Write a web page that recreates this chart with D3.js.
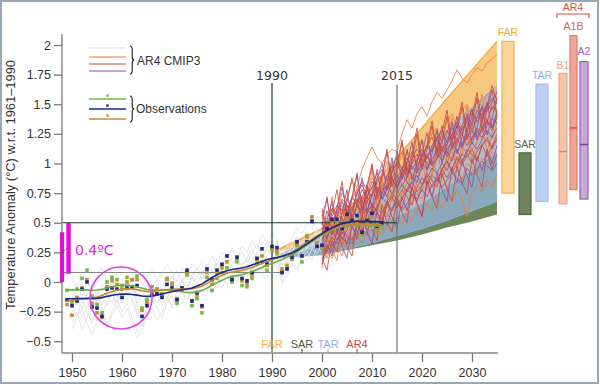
<!DOCTYPE html>
<html><head><meta charset="utf-8">
<script src="https://cdn.jsdelivr.net/npm/d3@7/dist/d3.min.js"></script>
<style>html,body{margin:0;padding:0;background:#fff;} svg{display:block;}</style>
</head><body>
<svg id="chart" width="600" height="386"></svg>
<script>
// ---------------- DATA ----------------
const yearTicks = [1950,1960,1970,1980,1990,2000,2010,2020,2030];
const tempTicks = [-0.5,-0.25,0,0.25,0.5,0.75,1,1.25,1.5,1.75,2];
const tempTickLabels = ["−0.5","−0.25","0","0.25","0.5","0.75","1","1.25","1.5","1.75","2"];

// observations, annual anomalies 1949..2012
const obsStart = 1949;
const obsGreen = [-0.07,-0.17,-0.06,0.03,0.10,-0.12,-0.19,-0.26,0.00,0.04,0.02,-0.03,0.04,0.02,0.05,-0.22,-0.15,-0.04,-0.06,-0.10,0.02,-0.02,-0.18,-0.07,0.06,-0.20,-0.14,-0.26,0.04,-0.07,0.03,0.08,0.12,0.00,0.17,-0.03,-0.04,0.03,0.16,0.17,0.10,0.27,0.24,0.08,0.12,0.19,0.31,0.17,0.39,0.52,0.30,0.29,0.44,0.49,0.50,0.44,0.54,0.50,0.48,0.39,0.50,0.55,0.42,0.46];
const obsBlue  = [-0.15,-0.20,-0.16,-0.06,0.00,-0.21,-0.22,-0.29,-0.06,-0.05,-0.06,-0.13,-0.05,-0.04,-0.03,-0.29,-0.20,-0.11,-0.10,-0.13,-0.02,-0.05,-0.15,-0.05,0.10,-0.16,-0.09,-0.20,0.11,0.02,0.10,0.15,0.22,0.02,0.21,0.03,0.01,0.08,0.20,0.28,0.16,0.30,0.29,0.08,0.11,0.21,0.34,0.22,0.34,0.51,0.30,0.31,0.45,0.53,0.53,0.45,0.57,0.52,0.56,0.42,0.52,0.58,0.47,0.50];
const obsOrange= [-0.19,-0.28,-0.13,-0.05,0.02,-0.18,-0.26,-0.30,-0.04,0.01,-0.02,-0.06,0.00,0.02,0.02,-0.24,-0.17,-0.08,-0.06,-0.11,0.03,-0.01,-0.14,-0.05,0.08,-0.16,-0.11,-0.21,0.08,-0.02,0.07,0.12,0.17,0.04,0.20,0.01,-0.01,0.06,0.19,0.22,0.14,0.29,0.26,0.11,0.14,0.22,0.32,0.22,0.38,0.55,0.33,0.30,0.44,0.49,0.49,0.45,0.55,0.51,0.50,0.41,0.50,0.56,0.43,0.47];

// CMIP3 hindcast runs 1950..2000
const histStart = 1950;
const histRuns = [
 [-0.25,-0.18,-0.30,-0.22,-0.12,-0.20,-0.28,-0.15,-0.10,-0.18,-0.08,-0.15,-0.05,-0.20,-0.32,-0.22,-0.12,-0.18,-0.08,-0.14,-0.05,-0.10,0.02,-0.06,0.05,-0.02,0.08,0.00,0.10,0.05,0.12,0.18,0.08,0.02,0.15,0.20,0.12,0.25,0.18,0.28,0.22,0.30,0.10,0.18,0.26,0.32,0.25,0.38,0.30,0.42,0.36],
 [-0.10,-0.20,-0.05,-0.15,-0.25,-0.12,-0.02,-0.10,-0.18,-0.05,0.02,-0.08,-0.15,-0.28,-0.20,-0.10,-0.02,-0.12,-0.05,0.05,-0.02,-0.10,0.00,0.08,-0.04,0.05,0.10,0.02,0.08,0.15,0.06,0.12,0.20,0.14,0.05,0.10,0.18,0.25,0.16,0.22,0.30,0.20,0.05,0.15,0.25,0.20,0.32,0.28,0.40,0.35,0.45],
 [-0.35,-0.25,-0.40,-0.30,-0.20,-0.32,-0.22,-0.35,-0.25,-0.15,-0.25,-0.18,-0.30,-0.42,-0.35,-0.25,-0.15,-0.22,-0.30,-0.18,-0.12,-0.20,-0.08,-0.15,-0.05,-0.12,-0.02,-0.08,0.02,-0.05,0.05,-0.02,0.08,0.00,0.10,0.04,0.12,0.06,0.15,0.10,0.20,0.12,-0.02,0.05,0.15,0.10,0.22,0.18,0.28,0.24,0.32],
 [0.05,-0.05,0.10,0.02,-0.08,0.05,0.12,0.00,-0.05,0.08,0.15,0.05,0.00,-0.12,-0.05,0.05,0.10,0.02,0.08,0.15,0.08,0.00,0.12,0.05,0.15,0.10,0.18,0.12,0.22,0.15,0.25,0.18,0.28,0.20,0.30,0.25,0.35,0.28,0.40,0.32,0.42,0.35,0.20,0.30,0.38,0.45,0.40,0.50,0.44,0.55,0.48],
 [-0.20,-0.30,-0.15,-0.25,-0.35,-0.22,-0.12,-0.20,-0.10,-0.22,-0.15,-0.05,-0.12,-0.25,-0.38,-0.28,-0.18,-0.10,-0.20,-0.12,-0.20,-0.08,-0.15,-0.02,-0.10,0.00,-0.08,0.05,-0.02,0.08,0.00,0.10,0.02,0.12,0.05,0.15,0.08,0.18,0.10,0.20,0.15,0.25,0.05,0.12,0.20,0.28,0.22,0.30,0.35,0.28,0.38],
 [-0.05,-0.15,-0.22,-0.10,-0.02,-0.12,-0.20,-0.08,0.00,-0.10,-0.18,-0.06,0.02,-0.15,-0.25,-0.15,-0.05,0.02,-0.08,-0.02,0.05,-0.05,0.02,-0.08,0.06,0.12,0.02,0.10,0.05,0.16,0.10,0.04,0.15,0.22,0.12,0.20,0.28,0.18,0.25,0.34,0.26,0.35,0.15,0.22,0.32,0.38,0.30,0.42,0.36,0.46,0.40],
 [-0.40,-0.30,-0.22,-0.35,-0.45,-0.32,-0.25,-0.38,-0.28,-0.20,-0.30,-0.22,-0.35,-0.48,-0.40,-0.30,-0.22,-0.32,-0.25,-0.15,-0.22,-0.12,-0.18,-0.08,-0.15,-0.05,-0.12,-0.02,-0.10,0.00,-0.05,0.05,-0.02,0.06,0.00,0.10,0.02,0.12,0.05,0.15,0.10,0.18,0.00,0.08,0.16,0.12,0.20,0.26,0.18,0.30,0.25],
 [-0.15,-0.05,-0.12,0.00,-0.08,-0.18,-0.10,0.02,-0.06,-0.14,-0.04,0.04,-0.06,-0.18,-0.12,-0.02,-0.10,-0.04,0.06,-0.02,0.04,0.10,0.00,0.08,0.02,0.12,0.06,0.15,0.08,0.20,0.14,0.22,0.12,0.18,0.26,0.16,0.24,0.32,0.22,0.30,0.36,0.28,0.12,0.22,0.30,0.24,0.34,0.40,0.32,0.44,0.38]
];

// CMIP3 projection runs 2000..2035
const projStart = 2000;
const orangeRuns = [
 [0.45,0.55,0.62,0.58,0.75,0.70,0.85,0.80,0.95,1.05,1.14,1.05,1.00,1.08,1.12,1.10,1.25,1.37,1.30,1.42,1.48,1.40,1.52,1.60,1.55,1.62,1.70,1.79,1.72,1.68,1.75,1.81,1.78,1.85,1.88,1.92],
 [0.30,0.42,0.35,0.50,0.45,0.58,0.52,0.48,0.62,0.70,0.65,0.60,0.75,0.72,0.68,0.85,0.80,0.78,0.92,0.88,0.95,1.02,0.90,1.05,1.10,1.00,1.12,1.20,1.15,1.08,1.22,1.28,1.20,1.35,1.30,1.40],
 [0.22,0.30,0.45,0.38,0.32,0.48,0.55,0.42,0.50,0.62,0.58,0.70,0.66,0.55,0.72,0.78,0.70,0.85,0.90,0.82,0.76,0.95,1.02,0.92,0.88,1.05,1.10,0.98,1.15,1.22,1.12,1.18,1.30,1.25,1.20,1.35],
 [0.50,0.38,0.60,0.55,0.65,0.52,0.70,0.78,0.62,0.75,0.88,0.82,0.92,0.85,0.98,1.05,0.95,1.10,1.02,1.15,1.20,1.12,1.25,1.30,1.18,1.35,1.42,1.30,1.45,1.50,1.40,1.55,1.48,1.58,1.62,1.55],
 [0.28,0.20,0.35,0.42,0.30,0.40,0.48,0.38,0.45,0.55,0.50,0.45,0.60,0.58,0.52,0.65,0.72,0.60,0.68,0.75,0.70,0.80,0.72,0.85,0.90,0.80,0.88,0.95,0.86,1.00,0.96,0.92,1.05,1.00,1.10,1.05],
 [0.38,0.48,0.42,0.55,0.62,0.50,0.58,0.68,0.60,0.72,0.80,0.70,0.78,0.90,0.82,0.75,0.92,1.00,0.88,0.96,1.08,1.00,0.95,1.10,1.18,1.05,1.15,1.22,1.12,1.25,1.32,1.20,1.28,1.38,1.30,1.42],
 [0.15,0.25,0.20,0.30,0.22,0.35,0.28,0.38,0.32,0.42,0.36,0.45,0.40,0.50,0.44,0.55,0.48,0.58,0.52,0.62,0.56,0.66,0.60,0.70,0.62,0.72,0.68,0.78,0.70,0.55,0.75,0.82,0.76,0.86,0.80,0.90],
 [0.60,0.35,0.72,0.48,0.30,0.65,0.52,0.80,0.45,0.70,0.95,0.62,0.85,1.02,0.70,0.92,1.10,0.85,0.78,1.05,1.20,0.95,1.12,1.30,1.05,1.25,1.38,1.15,1.30,1.48,1.25,1.40,1.58,1.35,1.50,1.62],
 [0.12,0.40,0.28,0.18,0.45,0.60,0.35,0.50,0.72,0.42,0.58,0.80,0.55,0.68,0.90,0.62,0.75,0.98,0.70,0.85,1.05,0.80,0.92,1.15,0.88,0.98,1.20,0.95,1.08,1.30,1.02,1.18,1.36,1.10,1.25,1.45]
];
const redRuns = [
 [0.35,0.45,0.40,0.52,0.48,0.60,0.55,0.65,0.58,0.68,0.75,0.70,0.80,0.72,0.85,0.90,0.82,0.88,0.98,0.92,1.00,1.08,0.98,1.05,1.15,1.10,1.02,1.18,1.25,1.15,1.22,1.30,1.26,1.35,1.28,1.40],
 [0.25,0.35,0.30,0.42,0.38,0.32,0.48,0.52,0.45,0.40,0.55,0.62,0.58,0.68,0.60,0.70,0.78,0.72,0.65,0.80,0.88,0.82,0.90,0.85,0.95,1.02,0.92,1.00,1.08,1.05,1.12,1.02,1.15,1.20,1.12,1.22],
 [0.55,0.48,0.62,0.58,0.70,0.65,0.60,0.75,0.82,0.72,0.80,0.92,0.85,0.78,0.95,1.00,0.90,1.02,1.10,0.98,1.05,1.15,1.22,1.10,1.18,1.28,1.20,1.32,1.25,1.38,1.45,1.35,1.42,1.50,1.45,1.55],
 [0.18,0.28,0.38,0.32,0.45,0.40,0.35,0.50,0.55,0.48,0.62,0.55,0.50,0.65,0.72,0.62,0.70,0.78,0.74,0.68,0.82,0.90,0.80,0.86,0.95,0.88,0.96,1.04,0.98,1.08,1.00,1.10,1.16,1.06,1.14,1.20],
 [0.42,0.52,0.48,0.40,0.58,0.65,0.55,0.62,0.72,0.68,0.60,0.75,0.82,0.78,0.88,0.80,0.95,0.90,1.00,1.08,0.98,1.05,1.12,1.20,1.10,1.16,1.25,1.20,1.30,1.35,1.28,1.38,1.42,1.35,1.48,1.45],
 [0.32,0.25,0.40,0.48,0.36,0.44,0.55,0.50,0.42,0.58,0.65,0.58,0.52,0.68,0.74,0.70,0.62,0.78,0.85,0.76,0.82,0.92,0.86,0.80,0.96,1.02,0.95,1.06,1.00,1.12,1.08,1.02,1.16,1.22,1.14,1.25],
 [0.48,0.72,0.40,0.62,0.85,0.55,0.70,0.92,0.60,0.78,1.00,0.72,0.88,1.10,0.80,0.95,1.18,0.88,1.02,1.25,0.95,1.12,1.32,1.05,1.20,1.40,1.12,1.28,1.48,1.20,1.35,1.55,1.28,1.45,1.62,1.40],
 [0.20,0.10,0.35,0.25,0.48,0.30,0.22,0.52,0.38,0.60,0.45,0.35,0.65,0.50,0.42,0.72,0.58,0.50,0.80,0.66,0.55,0.86,0.72,0.62,0.92,0.78,0.68,0.98,0.84,0.74,1.04,0.90,0.80,1.10,0.95,1.08],
 [0.62,0.45,0.58,0.78,0.52,0.68,0.88,0.66,0.55,0.82,0.98,0.75,0.90,1.12,0.86,1.00,1.20,0.94,1.08,1.30,1.02,1.16,1.36,1.10,1.26,1.45,1.18,1.32,1.52,1.26,1.40,1.60,1.35,1.48,1.66,1.52]
];
const purpleRuns = [
 [0.40,0.60,0.48,0.55,0.68,0.58,0.72,0.65,0.78,0.70,0.85,0.80,0.74,0.90,0.98,0.88,0.96,1.05,0.95,1.02,1.12,1.05,1.15,1.22,1.12,1.20,1.30,1.24,1.32,1.40,1.32,1.45,1.38,1.48,1.55,1.50],
 [0.28,0.38,0.45,0.35,0.42,0.52,0.46,0.40,0.56,0.62,0.55,0.64,0.72,0.66,0.60,0.75,0.82,0.76,0.84,0.90,0.82,0.88,0.96,0.92,1.00,0.94,1.05,1.12,1.02,1.10,1.18,1.12,1.20,1.28,1.22,1.30],
 [0.50,0.42,0.55,0.65,0.60,0.70,0.62,0.75,0.85,0.78,0.72,0.88,0.95,0.85,0.92,1.02,0.96,0.90,1.05,1.12,1.06,1.15,1.10,1.22,1.28,1.18,1.25,1.35,1.28,1.36,1.42,1.38,1.48,1.44,1.52,1.60],
 [0.20,0.30,0.26,0.36,0.44,0.38,0.32,0.46,0.52,0.44,0.50,0.58,0.54,0.48,0.62,0.68,0.60,0.66,0.74,0.70,0.78,0.72,0.82,0.88,0.80,0.86,0.92,0.88,0.82,0.96,0.90,0.95,1.02,0.98,0.94,1.00],
 [0.36,0.44,0.52,0.46,0.40,0.55,0.62,0.56,0.64,0.72,0.66,0.60,0.76,0.82,0.74,0.85,0.92,0.84,0.78,0.94,1.00,0.95,1.04,1.10,1.02,1.12,1.18,1.10,1.16,1.25,1.20,1.28,1.22,1.32,1.38,1.34],
 [0.46,0.36,0.50,0.58,0.52,0.46,0.60,0.70,0.64,0.58,0.74,0.80,0.70,0.78,0.86,0.80,0.88,0.96,0.90,0.84,0.98,1.06,0.98,1.04,1.12,1.06,1.14,1.20,1.14,1.22,1.28,1.20,1.30,1.36,1.30,1.38],
 [0.30,0.52,0.68,0.42,0.58,0.78,0.50,0.66,0.88,0.60,0.74,0.95,0.70,0.82,1.05,0.78,0.92,1.12,0.86,1.00,1.20,0.94,1.08,1.28,1.00,1.15,1.35,1.08,1.22,1.42,1.16,1.30,1.48,1.24,1.38,1.55],
 [0.15,0.32,0.22,0.45,0.30,0.20,0.48,0.36,0.55,0.42,0.32,0.60,0.48,0.68,0.55,0.45,0.72,0.60,0.80,0.66,0.56,0.85,0.72,0.92,0.78,0.68,0.96,0.84,1.02,0.90,0.80,1.06,0.94,1.12,1.00,1.15],
 [0.55,0.70,0.46,0.62,0.80,0.58,0.72,0.90,0.66,0.82,0.62,0.86,1.00,0.78,0.92,1.10,0.86,1.00,1.18,0.94,1.08,1.26,1.00,1.14,1.32,1.08,1.22,1.40,1.15,1.30,1.46,1.22,1.36,1.52,1.30,1.44]
];

// projection envelopes of past assessment reports
const fanYears = [1990,2000,2010,2015,2020,2025,2030,2035];
const farLo = [0.25,0.33,0.45,0.50,0.55,0.62,0.68,0.75];
const farHi = [0.25,0.45,0.80,1.05,1.30,1.55,1.79,2.03];
const sarLo = [0.20,0.23,0.31,0.35,0.40,0.46,0.51,0.57];
const sarHi = [0.20,0.30,0.45,0.55,0.66,0.80,0.94,1.09];
const tarLo = [0.20,0.23,0.33,0.39,0.45,0.52,0.60,0.68];
const tarHi = [0.20,0.40,0.70,0.88,1.08,1.28,1.47,1.66];

// ranges at 2035
const projNames = ["FAR","SAR","TAR","B1","A1B","A2"];
const projLo  = [0.75,0.57,0.68,0.66,0.78,0.70];
const projHi  = [2.03,1.09,1.67,1.76,2.08,1.86];
const projMid = [null,null,null,1.10,1.30,1.16];

const reportNames = ["FAR","SAR","TAR","AR4"];
const reportYears = [1990,1996,2001.2,2007];

// ---------------- DRAW ----------------
const svg = d3.select("#chart");
const x = d3.scaleLinear().domain([1948, 2035.2]).range([62, 498]);
const y = d3.scaleLinear().domain([-0.5, 2]).range([341.25, 45]);
const SANS = "'Liberation Sans', Arial, Helvetica, sans-serif";
const DEJ = "'DejaVu Sans', sans-serif";

// frame
svg.append("rect").attr("x",1).attr("y",1).attr("width",597).attr("height",382)
  .attr("fill","#fff").attr("stroke","#9aa7b4").attr("stroke-width",2);

// fans
function fan(lo, hi, fill, op) {
  const area = d3.area().x(d=>x(d)).y0((d,i)=>y(lo[i])).y1((d,i)=>y(hi[i]));
  svg.append("path").datum(fanYears).attr("d", area).attr("fill", fill).attr("fill-opacity", op).attr("stroke","none");
}
function edge(vals, col, w) {
  const ln = d3.line().x(d=>x(d)).y((d,i)=>y(vals[i]));
  svg.append("path").datum(fanYears).attr("d", ln).attr("fill","none").attr("stroke",col).attr("stroke-width",w);
}
fan(farLo, farHi, "#f8c271", 0.9);
fan(sarLo, sarHi, "#6c8758", 1);
fan(tarLo, tarHi, "#98b6e2", 0.72);
edge(farHi, "#f0a53a", 1.3);
edge(tarHi, "#8fb1e0", 1);
edge(tarLo, "#8fb1e0", 1);

// hindcast runs
const runLine = (start) => d3.line().x((d,i)=>x(start+i)).y(d=>y(d));
svg.append("g").selectAll("path").data(histRuns).join("path")
  .attr("d", runLine(histStart)).attr("fill","none").attr("stroke","#e3e3e3").attr("stroke-width",0.9);

// projection runs
const runSets = [[orangeRuns,"#ea7a35"],[purpleRuns,"#8d4f9e"],[redRuns,"#c9473f"]];
runSets.forEach(([runs,col])=>{
  svg.append("g").selectAll("path").data(runs).join("path")
    .attr("d", runLine(projStart)).attr("fill","none").attr("stroke",col)
    .attr("stroke-width",1).attr("stroke-opacity",0.8);
});

// reference lines
svg.append("line").attr("x1",x(1990)).attr("x2",x(1990)).attr("y1",83).attr("y2",353).attr("stroke","#1d3a28").attr("stroke-width",1.2);
svg.append("line").attr("x1",x(2015)).attr("x2",x(2015)).attr("y1",85).attr("y2",353).attr("stroke","#6b7a70").attr("stroke-width",1.2);
svg.append("line").attr("x1",62).attr("x2",x(2015)).attr("y1",y(0.5)).attr("y2",y(0.5)).attr("stroke","#1d3a28").attr("stroke-width",1.2);
svg.append("line").attr("x1",62).attr("x2",x(1992)).attr("y1",y(0.08)).attr("y2",y(0.08)).attr("stroke","#7d8c82").attr("stroke-width",1);
svg.append("text").attr("x",x(1990)).attr("y",80).attr("text-anchor","middle").attr("font-family",DEJ).attr("font-size",12.5).attr("fill","#333").text("1990");
svg.append("text").attr("x",x(2015)).attr("y",80).attr("text-anchor","middle").attr("font-family",DEJ).attr("font-size",12.5).attr("fill","#333").text("2015");

// observations
const obsSets = [[obsGreen,"#74b846"],[obsOrange,"#c98a3c"],[obsBlue,"#1f2a7c"]];
obsSets.forEach(([vals,col])=>{
  svg.append("g").selectAll("rect").data(vals).join("rect")
    .attr("x",(d,i)=>x(obsStart+i)-1.8).attr("y",d=>y(d)-1.8).attr("width",3.6).attr("height",3.6).attr("fill",col);
});
function smooth(vals){
  return vals.map((v,i)=>{
    let s=0, w=0;
    for(let k=-6;k<=6;k++){ const j=i+k; if(j<0||j>=vals.length) continue; const wt=Math.exp(-(k*k)/(2*9)); s+=wt*vals[j]; w+=wt; }
    return s/w;
  });
}
[[obsGreen,"#6cb042"],[obsOrange,"#c98438"],[obsBlue,"#1c2a80"]].forEach(([vals,col])=>{
  svg.append("path").datum(smooth(vals)).attr("d", runLine(obsStart)).attr("fill","none").attr("stroke",col).attr("stroke-width",1.6);
});

// axes
const yAxis = d3.axisLeft(y).tickValues(tempTicks).tickSize(8).tickPadding(3)
  .tickFormat((d,i)=>tempTickLabels[i]);
const gy = svg.append("g").attr("transform","translate(62,0)").call(yAxis);
gy.select(".domain").remove();
gy.selectAll(".tick line").attr("stroke","#777").attr("stroke-width",1.3);
gy.selectAll(".tick text").attr("font-family",SANS).attr("font-size",12.5).attr("fill","#333");
svg.append("line").attr("x1",62).attr("x2",62).attr("y1",34).attr("y2",353).attr("stroke","#8a8a8a").attr("stroke-width",1.5);

const xAxis = d3.axisBottom(x).tickValues(yearTicks).tickSize(9).tickPadding(6).tickFormat(d3.format("d"));
const gx = svg.append("g").attr("transform","translate(0,353)").call(xAxis);
gx.select(".domain").remove();
gx.selectAll(".tick line").attr("stroke","#777").attr("stroke-width",1.3);
gx.selectAll(".tick text").attr("font-family",SANS).attr("font-size",12.5).attr("fill","#333");
svg.append("line").attr("x1",62).attr("x2",498).attr("y1",353).attr("y2",353).attr("stroke","#8a8a8a").attr("stroke-width",1.5);

// report markers on x axis
const repCols = ["#f5b445","#4d5e44","#8fb1e0","#e0443e"];
reportNames.forEach((n,i)=>{
  svg.append("line").attr("x1",x(reportYears[i])).attr("x2",x(reportYears[i])).attr("y1",349).attr("y2",353).attr("stroke",repCols[i]).attr("stroke-width",1.2);
  svg.append("text").attr("x",x(reportYears[i])).attr("y",348).attr("text-anchor","middle")
    .attr("font-family",SANS).attr("font-size",11).attr("fill",repCols[i]).text(n);
});

// y-axis title
svg.append("text").attr("transform","translate(15,185) rotate(-90)").attr("text-anchor","middle")
  .attr("font-family",SANS).attr("font-size",13).attr("fill","#333")
  .attr("textLength",250).attr("lengthAdjust","spacingAndGlyphs")
  .text("Temperature Anomaly (°C) w.r.t. 1961–1990");

// projection range bars at right
const barX = [502,519,536,559,570,580];
const barW = [12,12,12,8,7,8];
const barFill = ["#fcd79d","#6d845d","#bbd0f1","#f7c3a9","#f0a696","#c6a9d4"];
const barStroke = ["#f2ad45","#4f6542","#a3bfe9","#efa584","#e07b6a","#9563aa"];
const midCol = [null,null,null,"#ec7e52","#e04b4b","#7f3f9c"];
const labCol = ["#f2a93c","#55644c","#8fb1e0","#f0a07c","#e06060","#9563aa"];
const labY = [36,148,79,69,30,55];
projNames.forEach((n,i)=>{
  svg.append("rect").attr("x",barX[i]).attr("y",y(projHi[i])).attr("width",barW[i]).attr("height",y(projLo[i])-y(projHi[i]))
    .attr("fill",barFill[i]).attr("stroke",barStroke[i]).attr("stroke-width",1.2);
  if(projMid[i]!==null){
    svg.append("line").attr("x1",barX[i]).attr("x2",barX[i]+barW[i]).attr("y1",y(projMid[i])).attr("y2",y(projMid[i])).attr("stroke",midCol[i]).attr("stroke-width",1.5);
  }
  svg.append("text").attr("x",barX[i]+barW[i]/2).attr("y",labY[i]).attr("text-anchor","middle")
    .attr("font-family",SANS).attr("font-size",10.5).attr("fill",labCol[i]).text(n);
});
svg.append("path").attr("d","M557,18 L557,14 L589,14 L589,18").attr("fill","none").attr("stroke","#d0504a").attr("stroke-width",1.2);
svg.append("text").attr("x",573).attr("y",11).attr("text-anchor","middle").attr("font-family",SANS).attr("font-size",10.5).attr("fill","#d0504a").text("AR4");

// legend
const legX1 = 89, legX2 = 126;
const legAR = [[48,"#dadada"],[57,"#ea7a35"],[64,"#c9473f"],[71,"#8d4f9e"]];
legAR.forEach(([yy,c])=>svg.append("line").attr("x1",legX1).attr("x2",legX2).attr("y1",yy).attr("y2",yy).attr("stroke",c).attr("stroke-width",1.2));
const legObs = [[99,"#74b846"],[109,"#1f2a7c"],[119,"#c98a3c"]];
legObs.forEach(([yy,c])=>{
  svg.append("line").attr("x1",legX1).attr("x2",legX2).attr("y1",yy).attr("y2",yy).attr("stroke",c).attr("stroke-width",1.3);
  svg.append("rect").attr("x",(legX1+legX2)/2-1.2).attr("y",yy-4.6).attr("width",2.4).attr("height",2.4).attr("fill",c);
});
function brace(bx, y1, y2){
  const m=(y1+y2)/2, w=2.2;
  return `M${bx},${y1} Q${bx+w},${y1} ${bx+w},${y1+4} L${bx+w},${m-3} Q${bx+w},${m} ${bx+2*w},${m} Q${bx+w},${m} ${bx+w},${m+3} L${bx+w},${y2-4} Q${bx+w},${y2} ${bx},${y2}`;
}
svg.append("path").attr("d",brace(130,46,74)).attr("fill","none").attr("stroke","#222").attr("stroke-width",1.1);
svg.append("path").attr("d",brace(130,96,122)).attr("fill","none").attr("stroke","#222").attr("stroke-width",1.1);
svg.append("text").attr("x",137).attr("y",65).attr("font-family",SANS).attr("font-size",12).attr("fill","#333").text("AR4 CMIP3");
svg.append("text").attr("x",136).attr("y",113).attr("font-family",SANS).attr("font-size",12).attr("fill","#333").text("Observations");

// magenta annotations
const MAG = "#e012d6";
svg.append("rect").attr("x",60).attr("y",y(0.42)).attr("width",4.2).attr("height",y(0)-y(0.42)).attr("fill",MAG);
svg.append("rect").attr("x",66.3).attr("y",y(0.5)).attr("width",4.5).attr("height",y(0.07)-y(0.5)).attr("fill",MAG);
svg.append("line").attr("x1",60).attr("y1",255).attr("x2",67).attr("y2",248).attr("stroke","#333").attr("stroke-width",0.8).attr("stroke-dasharray","2,1");
svg.append("text").attr("x",75).attr("y",255).attr("font-family",DEJ).attr("font-size",14).attr("fill","#d624d6").text("0.4ºC");
svg.append("circle").attr("cx",x(1959.8)).attr("cy",y(-0.135)).attr("r",31).attr("fill","none").attr("stroke","#e246e0").attr("stroke-width",1.6);
</script>
</body></html>
